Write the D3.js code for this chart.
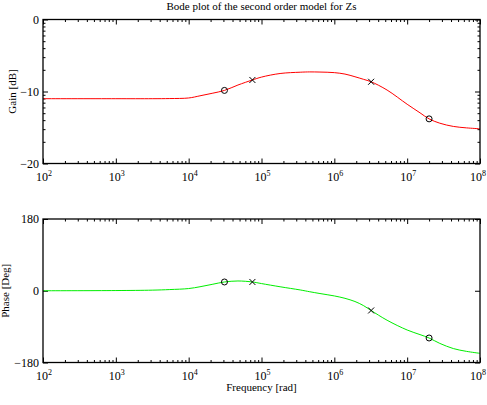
<!DOCTYPE html>
<html>
<head>
<meta charset="utf-8">
<script src="https://cdn.jsdelivr.net/npm/d3@7"></script>
<style>
body { margin: 0; background: #fff; }
svg { display: block; font-family: "Liberation Serif", "DejaVu Serif", serif; }
</style>
</head>
<body>
<svg id="chart" width="487" height="405"></svg>
<script>
// values
var freq = [1e2, 1e3, 3.16e3, 5.5e3, 1e4, 1.43e4, 2.1e4, 3.1e4, 4.75e4, 7.5e4, 1e5, 1.8e5, 3.4e5, 4.6e5, 6.35e5,
            1e6, 1.4e6, 1.92e6, 2.5e6, 3.2e6, 5.3e6, 1e7, 1.5e7, 2e7, 2.8e7, 4.3e7, 6.5e7, 1e8];
var gainDb = [-11.0, -11.0, -11.0, -10.98, -10.9, -10.6, -10.25, -9.85, -9.1, -8.4, -8.0, -7.5, -7.32, -7.28, -7.3,
              -7.38, -7.58, -7.95, -8.3, -8.65, -9.8, -11.77, -12.96, -13.8, -14.4, -14.85, -15.05, -15.18];
var phaseDeg = [0, 0.5, 1.5, 3, 5.5, 10, 16, 22, 24.5, 22, 18, 10, 2, -2.5, -7,
                -13, -19, -27, -37, -49.5, -74, -98.5, -110, -118.5, -132, -145, -152, -157];

var zeroFreq = [3.1e4, 2.0e7];
var zeroGain = [-9.85, -13.8];
var zeroPhase = [22, -118.5];
var poleFreq = [7.5e4, 3.2e6];
var poleGain = [-8.4, -8.65];
var polePhase = [22, -49.5];

var decades = [2, 3, 4, 5, 6, 7, 8];
var gainTicks = [0, -10, -20];
var phaseTicks = [180, 0, -180];

var svg = d3.select("#chart");
var W = 487;
var left = 43, right = 480;

var x = d3.scaleLog().domain([1e2, 1e8]).range([left, right]);

var xMinor = [];
decades.slice(0, -1).forEach(function(e) {
  for (var k = 2; k < 10; k++) xMinor.push(k * Math.pow(10, e));
});
var xMajor = decades.map(function(e) { return Math.pow(10, e); });

function fmt(v) { return String(v).replace("-", "\u2212"); }

function panel(top, bottom, domain, yTicks, yMinor, values, color, zeroVals, poleVals, ylabel, ylabelX) {
  var y = d3.scaleLinear().domain(domain).range([bottom, top]);
  var g = svg.append("g");

  // frame ticks, all pointing inward
  function xAxis(gen, ty, vals, size) {
    g.append("g").attr("transform", "translate(0," + ty + ")")
      .call(gen(x).tickValues(vals).tickSize(size).tickFormat(""))
      .call(function(s) { s.select(".domain").remove(); s.selectAll("line").attr("stroke", "#000"); });
  }
  xAxis(d3.axisBottom, bottom, xMajor, -5);
  xAxis(d3.axisBottom, bottom, xMinor, -2.5);
  xAxis(d3.axisTop, top, xMajor, -5);
  xAxis(d3.axisTop, top, xMinor, -2.5);

  function yAxis(gen, tx, vals, size) {
    g.append("g").attr("transform", "translate(" + tx + ",0)")
      .call(gen(y).tickValues(vals).tickSize(size).tickFormat(""))
      .call(function(s) { s.select(".domain").remove(); s.selectAll("line").attr("stroke", "#000"); });
  }
  yAxis(d3.axisLeft, left, yTicks, -5);
  yAxis(d3.axisRight, right, yTicks, -5);
  if (yMinor.length) {
    yAxis(d3.axisLeft, left, yMinor, -2.5);
    yAxis(d3.axisRight, right, yMinor, -2.5);
  }

  // y tick labels
  g.selectAll(".ylab").data(yTicks).enter().append("text")
    .attr("x", left - 4).attr("y", function(d) { return y(d) + 4; })
    .attr("text-anchor", "end").attr("font-size", 12)
    .text(fmt);

  // x tick labels 10^n
  var xl = g.selectAll(".xlab").data(decades).enter().append("text")
    .attr("x", function(d) { return x(Math.pow(10, d)) + 1; })
    .attr("y", bottom + 17)
    .attr("text-anchor", "middle").attr("font-size", 12);
  xl.append("tspan").text("10");
  xl.append("tspan").attr("dy", -5).attr("font-size", 8).text(function(d) { return d; });
  // keep the last label inside the page
  xl.each(function() {
    var b = this.getBBox();
    if (b.x + b.width > W - 1) d3.select(this).attr("x", +d3.select(this).attr("x") - (b.x + b.width - (W - 1)));
  });

  // curve
  var line = d3.line()
    .x(function(d, i) { return x(freq[i]); })
    .y(function(d) { return y(d); })
    .curve(d3.curveCatmullRom.alpha(0.5));
  g.append("path").datum(values).attr("d", line)
    .attr("fill", "none").attr("stroke", color).attr("stroke-width", 1);

  // zeros as circles
  g.selectAll(".zero").data(zeroVals).enter().append("circle")
    .attr("cx", function(d, i) { return x(zeroFreq[i]); })
    .attr("cy", function(d) { return y(d); })
    .attr("r", 3).attr("fill", "none").attr("stroke", "#000").attr("stroke-width", 1);

  // poles as crosses
  g.selectAll(".pole").data(poleVals).enter().append("path")
    .attr("d", function(d, i) {
      var px = x(poleFreq[i]), py = y(d), s = 3;
      return "M" + (px - s) + "," + (py - s) + "L" + (px + s) + "," + (py + s) +
             "M" + (px - s) + "," + (py + s) + "L" + (px + s) + "," + (py - s);
    })
    .attr("stroke", "#000").attr("stroke-width", 1);

  // frame
  g.append("rect").attr("x", left).attr("y", top)
    .attr("width", right - left).attr("height", bottom - top)
    .attr("fill", "none").attr("stroke", "#000").attr("stroke-width", 1.3);

  g.append("text")
    .attr("transform", "translate(" + ylabelX + "," + ((top + bottom) / 2) + ") rotate(-90)")
    .attr("text-anchor", "middle").attr("font-size", 11)
    .text(ylabel);
}

var gainMinor = [];
[0, -10].forEach(function(t) {
  for (var k = 2; k < 10; k++) gainMinor.push(t - 10 * (1 - Math.log10(k)));
});

panel(19.5, 163.5, [-20, 0], gainTicks, gainMinor, gainDb, "#ff0000", zeroGain, poleGain, "Gain [dB]", 16);
panel(219, 362.5, [-180, 180], phaseTicks, [], phaseDeg, "#00ee00", zeroPhase, polePhase, "Phase [Deg]", 9);

svg.append("text").attr("x", (left + right) / 2).attr("y", 10)
  .attr("text-anchor", "middle").attr("font-size", 11)
  .text("Bode plot of the second order model for Zs");

svg.append("text").attr("x", (left + right) / 2).attr("y", 391)
  .attr("text-anchor", "middle").attr("font-size", 11)
  .text("Frequency [rad]");
</script>
</body>
</html>
